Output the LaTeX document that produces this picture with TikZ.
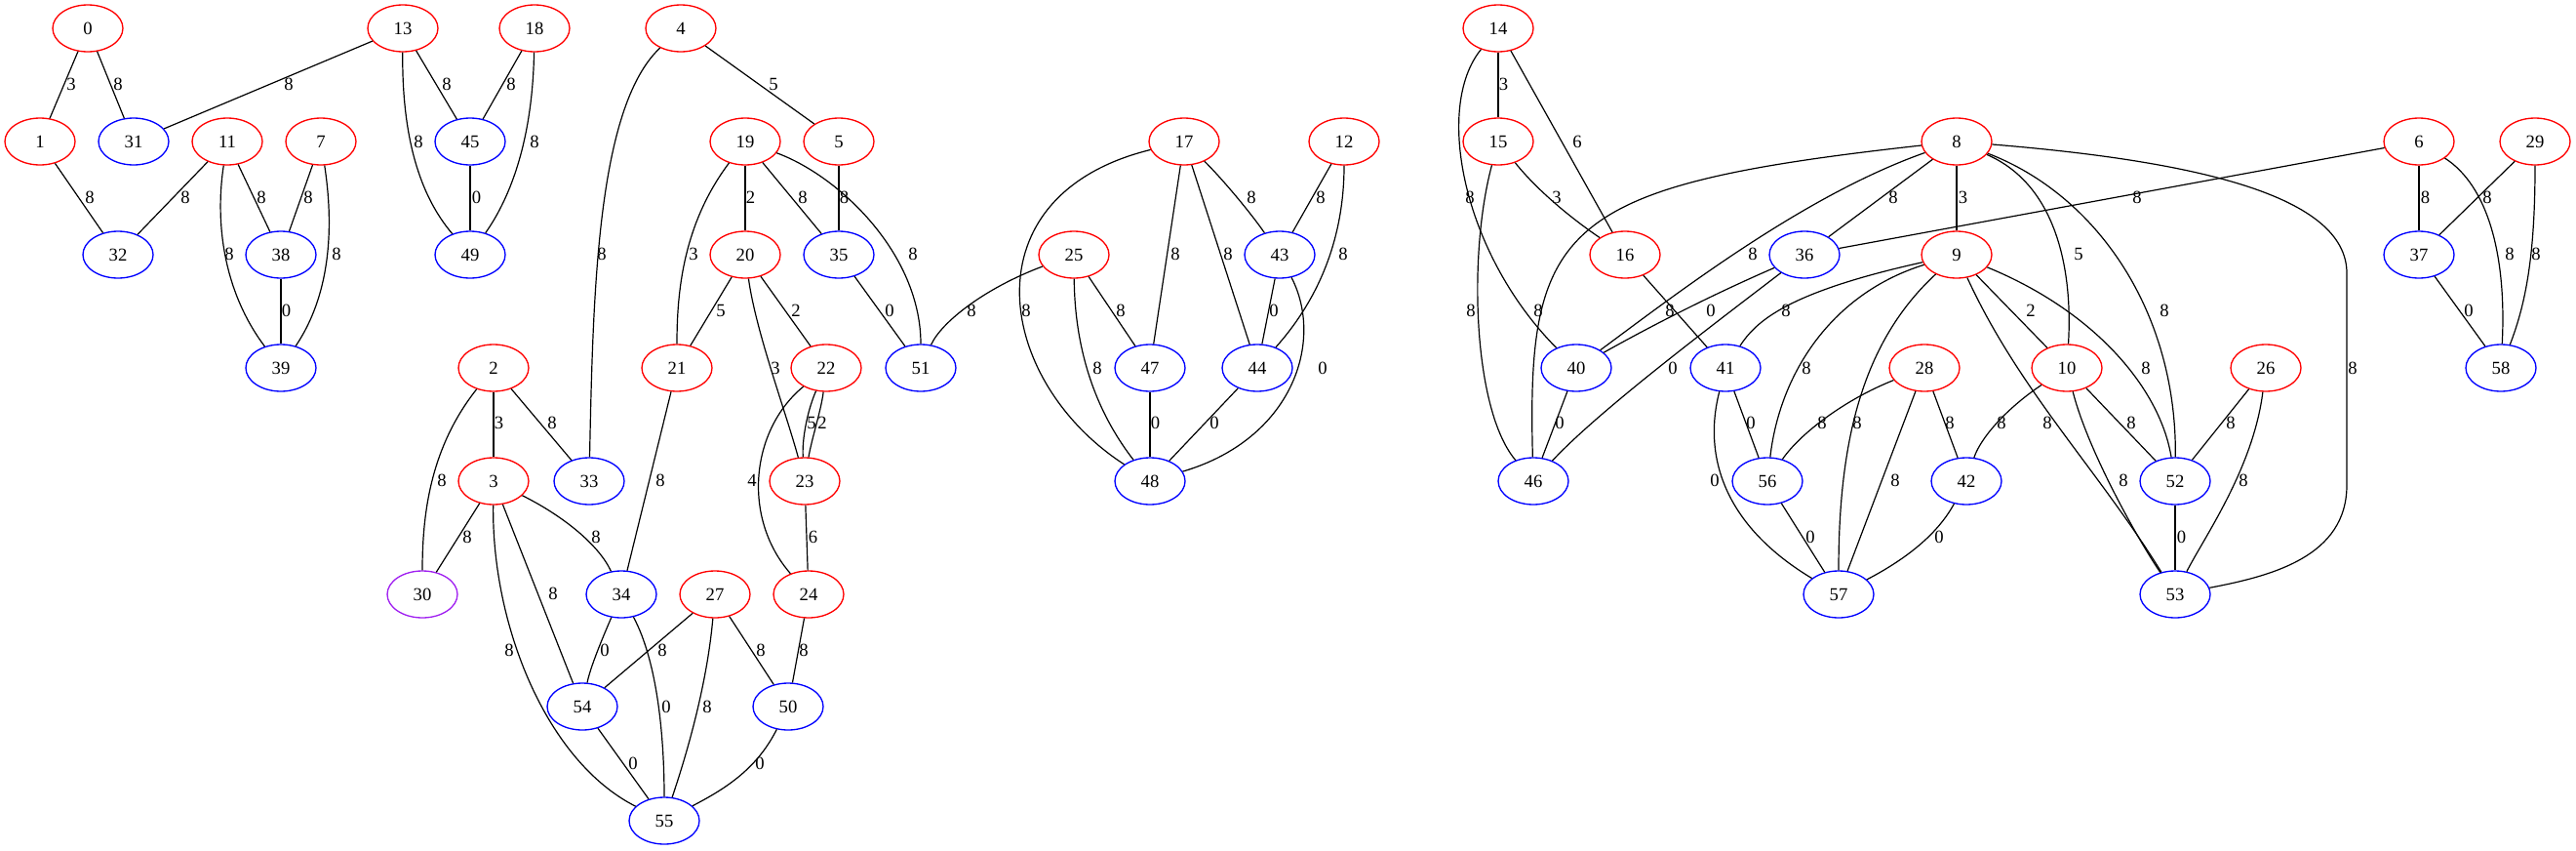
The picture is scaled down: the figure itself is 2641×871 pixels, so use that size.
\documentclass[tikz,border=0pt]{standalone}
\usepackage{fontspec}
\setmainfont{Liberation Serif}
\usetikzlibrary{shapes.geometric}
\definecolor{gvpurple}{RGB}{160,32,240}
\tikzset{
  gn/.style={ellipse,draw,line width=1pt,minimum width=54pt,minimum height=36pt,inner sep=0pt,font=\fontsize{14}{16}\selectfont},
  rn/.style={gn,draw=red},
  bn/.style={gn,draw=blue},
  pn/.style={gn,draw=gvpurple},
  e/.style={draw=black,line width=0.9pt},
  lb/.style={inner sep=0pt,font=\fontsize{14}{16}\selectfont}
}
\begin{document}
\begin{tikzpicture}[x=0.75pt,y=-0.75pt]
\useasboundingbox (0,0) rectangle (2641,871);
% nodes
\node[rn] (n0) at (90,29) {0};
\node[rn] (n13) at (413,29) {13};
\node[rn] (n18) at (548,29) {18};
\node[rn] (n4) at (698,29) {4};
\node[rn] (n14) at (1536,29) {14};
\node[rn] (n1) at (41,145) {1};
\node[bn] (n31) at (137,145) {31};
\node[rn] (n11) at (233,145) {11};
\node[rn] (n7) at (329,145) {7};
\node[bn] (n45) at (482,145) {45};
\node[rn] (n19) at (764,145) {19};
\node[rn] (n5) at (860,145) {5};
\node[rn] (n17) at (1214,145) {17};
\node[rn] (n12) at (1378,145) {12};
\node[rn] (n15) at (1536,145) {15};
\node[rn] (n8) at (2006,145) {8};
\node[rn] (n6) at (2480,145) {6};
\node[rn] (n29) at (2599,145) {29};
\node[bn] (n32) at (121,261) {32};
\node[bn] (n38) at (288,261) {38};
\node[bn] (n49) at (482,261) {49};
\node[rn] (n20) at (764,261) {20};
\node[bn] (n35) at (860,261) {35};
\node[rn] (n25) at (1101,261) {25};
\node[bn] (n43) at (1312,261) {43};
\node[rn] (n16) at (1666,261) {16};
\node[bn] (n36) at (1850,261) {36};
\node[rn] (n9) at (2006,261) {9};
\node[bn] (n37) at (2480,261) {37};
\node[bn] (n39) at (288,377) {39};
\node[rn] (n2) at (506,377) {2};
\node[rn] (n21) at (694,377) {21};
\node[rn] (n22) at (847,377) {22};
\node[bn] (n51) at (944,377) {51};
\node[bn] (n47) at (1179,377) {47};
\node[bn] (n44) at (1289,377) {44};
\node[bn] (n40) at (1616,377) {40};
\node[bn] (n41) at (1769,377) {41};
\node[rn] (n28) at (1973,377) {28};
\node[rn] (n10) at (2119,377) {10};
\node[rn] (n26) at (2323,377) {26};
\node[bn] (n58) at (2564,377) {58};
\node[rn] (n3) at (506,493) {3};
\node[bn] (n33) at (604,493) {33};
\node[rn] (n23) at (825,493) {23};
\node[bn] (n48) at (1179,493) {48};
\node[bn] (n46) at (1572,493) {46};
\node[bn] (n56) at (1812,493) {56};
\node[bn] (n42) at (2016,493) {42};
\node[bn] (n52) at (2230,493) {52};
\node[pn] (n30) at (433,609) {30};
\node[bn] (n34) at (637,609) {34};
\node[rn] (n27) at (733,609) {27};
\node[rn] (n24) at (829,609) {24};
\node[bn] (n57) at (1885,609) {57};
\node[bn] (n53) at (2230,609) {53};
\node[bn] (n54) at (597,724) {54};
\node[bn] (n50) at (808,724) {50};
\node[bn] (n55) at (681,841) {55};
% ---------- component 1
\draw[e] (n0) -- (n1); \node[lb] at (73,86) {3};
\draw[e] (n0) -- (n31); \node[lb] at (121,86) {8};
\draw[e] (n13) -- (n31); \node[lb] at (296,86) {8};
\draw[e] (n13) -- (n45); \node[lb] at (458,86) {8};
\draw[e] (n13) .. controls (412,140) and (430,200) .. (n49); \node[lb] at (429,145) {8};
\draw[e] (n18) -- (n45); \node[lb] at (524,86) {8};
\draw[e] (n18) .. controls (546,140) and (525,200) .. (n49); \node[lb] at (548,145) {8};
\draw[e] (n45) -- (n49); \node[lb] at (488.5,202) {0};
\draw[e] (n1) -- (n32); \node[lb] at (92,202) {8};
\draw[e] (n11) -- (n32); \node[lb] at (190,202) {8};
\draw[e] (n11) -- (n38); \node[lb] at (268,202) {8};
\draw[e] (n11) .. controls (220,230) and (230,300) .. (n39); \node[lb] at (235,260) {8};
\draw[e] (n7) -- (n38); \node[lb] at (316,202) {8};
\draw[e] (n7) .. controls (342,230) and (340,300) .. (n39); \node[lb] at (345,260) {8};
\draw[e] (n38) -- (n39); \node[lb] at (293.5,318) {0};
% ---------- component 2
\draw[e] (n4) -- (n5); \node[lb] at (793,86) {5};
\draw[e] (n4) .. controls (612,110) and (608,300) .. (n33); \node[lb] at (617,260) {8};
\draw[e] (n19) -- (n20); \node[lb] at (769.5,202) {2};
\draw[e] (n19) -- (n35); \node[lb] at (823,202) {8};
\draw[e] (n19) .. controls (860,180) and (944,260) .. (n51); \node[lb] at (936,260) {8};
\draw[e] (n19) .. controls (700,230) and (694,300) .. (n21); \node[lb] at (711,260) {3};
\draw[e] (n5) -- (n35); \node[lb] at (865.5,202) {8};
\draw[e] (n35) -- (n51); \node[lb] at (912,318) {0};
\draw[e] (n20) -- (n21); \node[lb] at (739,318) {5};
\draw[e] (n20) .. controls (775,340) and (805,420) .. (n23); \node[lb] at (795,377) {3};
\draw[e] (n20) -- (n22); \node[lb] at (816,318) {2};
\draw[e] (n22) .. controls (828,420) and (822,450) .. (n23); \node[lb] at (832,433) {5};
\draw[e] (n22) .. controls (842,420) and (832,450) .. (n23); \node[lb] at (843,433) {2};
\draw[e] (n22) .. controls (770,440) and (760,530) .. (n24); \node[lb] at (771,492) {4};
\draw[e] (n23) -- (n24); \node[lb] at (833.5,550) {6};
\draw[e] (n21) -- (n34); \node[lb] at (677,492) {8};
\draw[e] (n2) -- (n3); \node[lb] at (511.5,433) {3};
\draw[e] (n2) -- (n33); \node[lb] at (566,433) {8};
\draw[e] (n2) .. controls (440,460) and (433,530) .. (n30); \node[lb] at (453,492) {8};
\draw[e] (n3) -- (n30); \node[lb] at (479,550) {8};
\draw[e] (n3) .. controls (580,530) and (615,560) .. (n34); \node[lb] at (611,550) {8};
\draw[e] (n3) -- (n54); \node[lb] at (567,608) {8};
\draw[e] (n3) .. controls (504,640) and (560,780) .. (n55); \node[lb] at (522,666) {8};
\draw[e] (n34) .. controls (615,660) and (605,685) .. (n54); \node[lb] at (620,666) {0};
\draw[e] (n34) .. controls (675,680) and (681,760) .. (n55); \node[lb] at (683,724) {0};
\draw[e] (n27) -- (n54); \node[lb] at (679,666) {8};
\draw[e] (n27) .. controls (725,700) and (705,770) .. (n55); \node[lb] at (725,724) {8};
\draw[e] (n27) -- (n50); \node[lb] at (780,666) {8};
\draw[e] (n24) -- (n50); \node[lb] at (824,666) {8};
\draw[e] (n50) .. controls (775,790) and (740,810) .. (n55); \node[lb] at (779,782) {0};
\draw[e] (n54) -- (n55); \node[lb] at (649,782) {0};
% ---------- component 3
\draw[e] (n17) .. controls (990,200) and (1020,390) .. (n48); \node[lb] at (1052,318) {8};
\draw[e] (n17) -- (n47); \node[lb] at (1205,260) {8};
\draw[e] (n17) -- (n44); \node[lb] at (1259,260) {8};
\draw[e] (n17) .. controls (1250,180) and (1280,215) .. (n43); \node[lb] at (1283,202) {8};
\draw[e] (n12) -- (n43); \node[lb] at (1354,202) {8};
\draw[e] (n12) .. controls (1378,260) and (1340,320) .. (n44); \node[lb] at (1377,260) {8};
\draw[e] (n25) .. controls (1010,295) and (965,330) .. (n51); \node[lb] at (996,318) {8};
\draw[e] (n25) -- (n47); \node[lb] at (1149,318) {8};
\draw[e] (n25) .. controls (1102,370) and (1130,430) .. (n48); \node[lb] at (1125,377) {8};
\draw[e] (n43) -- (n44); \node[lb] at (1306,318) {0};
\draw[e] (n43) .. controls (1358,350) and (1325,450) .. (n48); \node[lb] at (1356,377) {0};
\draw[e] (n47) -- (n48); \node[lb] at (1184.5,433) {0};
\draw[e] (n44) -- (n48); \node[lb] at (1245,433) {0};
% ---------- component 4
\draw[e] (n14) -- (n15); \node[lb] at (1541.5,86) {3};
\draw[e] (n14) -- (n16); \node[lb] at (1617,145) {6};
\draw[e] (n14) .. controls (1470,110) and (1500,260) .. (n40); \node[lb] at (1507,202) {8};
\draw[e] (n15) .. controls (1580,200) and (1620,230) .. (n16); \node[lb] at (1596,202) {3};
\draw[e] (n15) .. controls (1505,260) and (1510,420) .. (n46); \node[lb] at (1508,318) {8};
\draw[e] (n8) .. controls (1600,190) and (1565,230) .. (n46); \node[lb] at (1577,318) {8};
\draw[e] (n8) .. controls (1850,200) and (1720,300) .. (n40); \node[lb] at (1797,260) {8};
\draw[e] (n8) -- (n36); \node[lb] at (1941,202) {8};
\draw[e] (n8) -- (n9); \node[lb] at (2012.5,202) {3};
\draw[e] (n8) .. controls (2110,190) and (2125,280) .. (n10); \node[lb] at (2131,260) {5};
\draw[e] (n8) .. controls (2150,200) and (2232,320) .. (n52); \node[lb] at (2219,318) {8};
\draw[e] (n8) .. controls (2250,165) and (2406,200) .. (2406,280) -- (2406,497) .. controls (2406,570) and (2330,590) .. (n53); \node[lb] at (2412,377) {8};
\draw[e] (n6) -- (n36); \node[lb] at (2191,202) {8};
\draw[e] (n6) -- (n37); \node[lb] at (2486.5,202) {8};
\draw[e] (n6) .. controls (2550,190) and (2570,260) .. (n58); \node[lb] at (2573,260) {8};
\draw[e] (n29) -- (n37); \node[lb] at (2550,202) {8};
\draw[e] (n29) .. controls (2599,260) and (2590,310) .. (n58); \node[lb] at (2600,260) {8};
\draw[e] (n37) -- (n58); \node[lb] at (2531,318) {0};
\draw[e] (n16) -- (n41); \node[lb] at (1712,318) {8};
\draw[e] (n36) .. controls (1760,300) and (1700,330) .. (n40); \node[lb] at (1754,318) {0};
\draw[e] (n36) .. controls (1760,330) and (1640,420) .. (n46); \node[lb] at (1715,377) {0};
\draw[e] (n9) .. controls (1830,300) and (1800,330) .. (n41); \node[lb] at (1831,318) {8};
\draw[e] (n9) .. controls (1880,300) and (1825,380) .. (n56); \node[lb] at (1852,377) {8};
\draw[e] (n9) .. controls (1910,350) and (1885,450) .. (n57); \node[lb] at (1904,433) {8};
\draw[e] (n9) -- (n10); \node[lb] at (2082,318) {2};
\draw[e] (n9) .. controls (2070,400) and (2150,480) .. (n53); \node[lb] at (2099,433) {8};
\draw[e] (n9) .. controls (2150,320) and (2215,400) .. (n52); \node[lb] at (2200,377) {8};
\draw[e] (n40) -- (n46); \node[lb] at (1599,433) {0};
\draw[e] (n41) -- (n56); \node[lb] at (1795,433) {0};
\draw[e] (n41) .. controls (1745,470) and (1770,540) .. (n57); \node[lb] at (1758,492) {0};
\draw[e] (n28) .. controls (1890,410) and (1845,445) .. (n56); \node[lb] at (1868,433) {8};
\draw[e] (n28) -- (n57); \node[lb] at (1943,492) {8};
\draw[e] (n28) -- (n42); \node[lb] at (1999,433) {8};
\draw[e] (n10) .. controls (2055,420) and (2030,450) .. (n42); \node[lb] at (2052,433) {8};
\draw[e] (n10) .. controls (2140,460) and (2190,550) .. (n53); \node[lb] at (2177,492) {8};
\draw[e] (n10) -- (n52); \node[lb] at (2185,433) {8};
\draw[e] (n26) -- (n52); \node[lb] at (2287,433) {8};
\draw[e] (n26) .. controls (2310,480) and (2260,550) .. (n53); \node[lb] at (2300,492) {8};
\draw[e] (n42) .. controls (1985,550) and (1950,575) .. (n57); \node[lb] at (1988,550) {0};
\draw[e] (n52) -- (n53); \node[lb] at (2236.5,550) {0};
\draw[e] (n56) -- (n57); \node[lb] at (1856,550) {0};
\end{tikzpicture}
\end{document}
